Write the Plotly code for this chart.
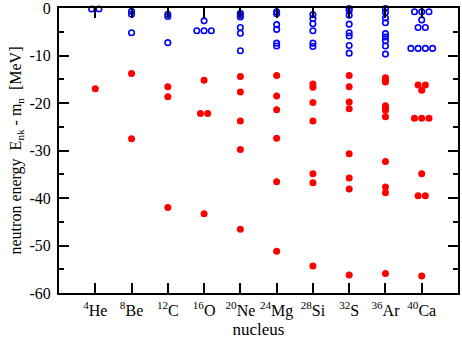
import plotly.graph_objects as go

nuclei = ["<sup>4</sup>He", "<sup>8</sup>Be", "<sup>12</sup>C", "<sup>16</sup>O", "<sup>20</sup>Ne",
          "<sup>24</sup>Mg", "<sup>28</sup>Si", "<sup>32</sup>S", "<sup>36</sup>Ar", "<sup>40</sup>Ca"]

# deeply bound neutron levels (filled red); repeated values = degenerate levels
deep_levels = [
    [-17.0],
    [-13.8, -27.5],
    [-16.6, -18.7, -42.0],
    [-15.2, -22.2, -22.2, -43.3],
    [-14.4, -17.7, -23.8, -29.8, -46.6],
    [-14.2, -18.5, -21.4, -27.4, -36.6, -51.2],
    [-16.0, -16.7, -19.9, -23.8, -34.9, -36.8, -54.3],
    [-14.2, -16.6, -19.8, -21.2, -30.7, -35.8, -38.1, -56.2],
    [-14.7, -15.2, -15.6, -20.6, -21.1, -21.5, -22.9, -32.3, -37.7, -38.9, -55.9],
    [-16.2, -16.2, -17.3, -23.2, -23.2, -23.2, -34.9, -39.5, -39.5, -56.4],
]

# weakly bound neutron levels (open blue)
shallow_levels = [
    [-0.2, -0.2],
    [-0.7, -1.3, -5.2],
    [-1.3, -1.8, -7.3],
    [-2.7, -4.8, -4.8, -4.8],
    [-1.1, -1.5, -1.9, -4.1, -5.3, -9.0],
    [-0.8, -1.2, -3.5, -4.5, -7.4, -8.0],
    [-1.4, -2.2, -3.3, -4.8, -7.4, -8.1],
    [-0.1, -0.5, -1.5, -3.4, -5.2, -5.9, -7.9, -9.5],
    [-0.1, -0.9, -2.1, -3.1, -5.4, -6.1, -6.9, -8.0, -9.7],
    [-0.8, -0.8, -0.8, -2.5, -4.1, -4.1, -8.5, -8.5, -8.5, -8.5],
]

y_ticks = [0, -10, -20, -30, -40, -50, -60]
y_labels = ["0", "-10", "-20", "-30", "-40", "-50", "-60"]
SPREAD = 0.2


def spread(levels):
    xs, ys = [], []
    for i, lev in enumerate(levels):
        counts = {}
        for e in lev:
            counts[e] = counts.get(e, 0) + 1
        for e, d in counts.items():
            for k in range(d):
                xs.append(i + (k - (d - 1) / 2) * SPREAD)
                ys.append(e)
    return xs, ys


dx, dy = spread(deep_levels)
sx, sy = spread(shallow_levels)

fig = go.Figure()
fig.add_trace(go.Scatter(x=dx, y=dy, mode="markers", cliponaxis=False,
                         marker=dict(symbol="circle", size=7, color="#ff0000")))
fig.add_trace(go.Scatter(x=sx, y=sy, mode="markers", cliponaxis=False,
                         marker=dict(symbol="circle-open", size=5.5, color="#0000ff",
                                     line=dict(width=1.6, color="#0000ff"))))

font = "Liberation Serif, Times New Roman, serif"
fig.update_layout(
    width=462, height=341,
    margin=dict(l=59, r=4, t=8, b=48),
    paper_bgcolor="white", plot_bgcolor="white",
    showlegend=False,
    font=dict(family=font, size=16, color="black"),
)
fig.update_xaxes(
    range=[-1, 10], tickmode="array", tickvals=list(range(len(nuclei))), ticktext=nuclei,
    ticks="inside", ticklen=10, tickwidth=2, tickcolor="black",
    showline=True, linewidth=2, linecolor="black", mirror="ticks",
    showgrid=False, zeroline=False, automargin=False,
    tickfont=dict(family=font, size=16), ticklabelstandoff=2,
    title=dict(text="nucleus", font=dict(family=font, size=17), standoff=2),
)
fig.update_yaxes(
    range=[-60, 0], tickmode="array", tickvals=y_ticks, ticktext=y_labels,
    ticks="inside", ticklen=10, tickwidth=2, tickcolor="black",
    minor=dict(ticks="inside", ticklen=5, tickwidth=2, dtick=5, tickcolor="black", showgrid=False),
    showline=True, linewidth=2, linecolor="black", mirror="ticks",
    showgrid=False, zeroline=False, automargin=False, ticklabeloverflow="allow",
    tickfont=dict(family=font, size=16), ticklabelstandoff=3,
    title=dict(text="neutron energy  E<sub>nk</sub> - m<sub>n</sub>  [MeV]",
               font=dict(family=font, size=16), standoff=4),
)

fig.write_html("out.html", config={"displayModeBar": False},
               post_script="document.body.style.margin='0';document.body.style.padding='0';")
